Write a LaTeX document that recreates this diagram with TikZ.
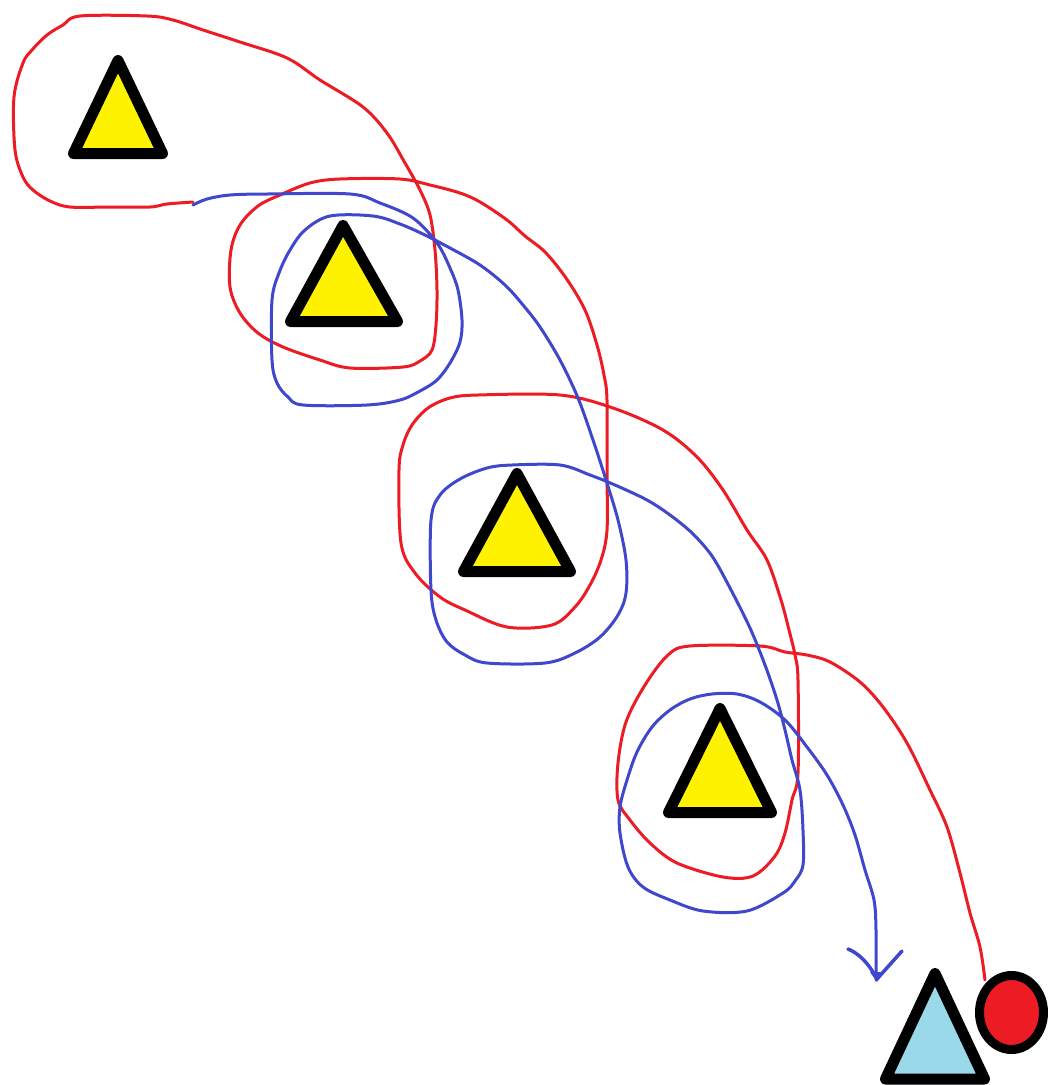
\documentclass[tikz,border=0pt]{standalone}
\definecolor{pred}{HTML}{ED1C24}
\definecolor{pblue}{HTML}{3F48CC}
\definecolor{pyellow}{HTML}{FFF200}
\definecolor{plblue}{HTML}{99D9EA}
\begin{document}
\begin{tikzpicture}[x=1pt,y=-1pt,
  cone/.style={draw=black,line width=11pt,line join=round,fill=pyellow},
  redpath/.style={draw=pred,line width=3pt,line cap=round,line join=round},
  bluepath/.style={draw=pblue,line width=3pt,line cap=round,line join=round}]
\useasboundingbox[fill=white] (0,0) rectangle (1048,1085);
% red route
\draw[redpath] plot[smooth,tension=0.55] coordinates {
(193,202) (167,204) (150,207) (110,207) (70,207) (50,201) (33,190) (23,177) (15,150) (14,97) (23,63) (32,50) (47,35) (63,25) (80,16) (147,16) (173,20) (203,30) (240,42) (287,58) (320,80) (363,107) (387,133) (405,163) (420,190) (430,215) (435,250) (437,290) (436,325) (432,350) (420,361) (403,367) (350,368) (320,360) (283,347) (258,333) (240,313) (230,287) (231,250) (240,225) (258,206) (280,195) (310,183) (340,179) (400,179) (430,185) (460,193) (480,202) (507,220) (525,236) (545,252) (566,278) (585,310) (597,345) (604,375) (607,400) (607,470) (607,530) (601,560) (590,585) (575,607) (552,625) (507,627) (465,610) (440,597) (415,573) (401,543) (399,470) (403,445) (412,425) (428,408) (450,398) (478,395) (560,395) (613,408) (663,430) (697,457) (723,490) (747,530) (767,560) (781,600) (789,630) (795,655) (798,680) (798,773) (792,800) (785,833) (775,856) (753,876) (723,877) (677,863) (650,843) (630,820) (618,800) (618,763) (626,722) (645,685) (668,655) (690,646) (760,646) (785,652) (807,655) (830,662) (860,682) (883,707) (907,743) (930,790) (947,827) (960,873) (970,913) (980,947) (985,980)};
% blue route
\draw[bluepath] plot[smooth,tension=0.55] coordinates {
(193,205) (207,199) (230,195) (267,194) (350,194) (380,203) (413,218) (437,243) (450,268) (458,290) (462,320) (460,342) (450,363) (437,380) (420,391) (400,400) (367,405) (303,405) (288,397) (277,383) (272,360) (272,300) (279,273) (290,250) (305,230) (330,216) (373,216) (400,224) (425,235) (450,248) (480,265) (505,285) (523,305) (540,327) (560,360) (578,398) (593,440) (606,480) (618,520) (626,560) (626,593) (618,615) (600,637) (575,653) (545,663) (487,663) (465,655) (447,642) (436,620) (431,590) (431,520) (440,495) (460,479) (487,468) (512,465) (560,465) (590,475) (615,485) (647,500) (670,515) (692,533) (712,556) (730,588) (750,628) (765,665) (777,700) (785,730) (792,760) (800,790) (803,830) (803,865) (795,881) (783,893) (747,911) (703,911) (670,900) (643,887) (628,867) (620,833) (620,807) (627,780) (637,752) (652,727) (670,710) (690,699) (712,694) (737,694) (760,702) (785,720) (807,747) (827,775) (843,805) (855,835) (865,870) (874,900) (876,930) (876,980)};
% arrow head
\draw[bluepath,line width=3.5pt] (848,949) .. controls (858,953) and (868,962) .. (877,979) -- (902,951);
\fill[pblue] (870,972) -- (877,982) -- (884,972) -- cycle;
% yellow triangles
\draw[cone] (118,60.5) -- (162.5,153.5) -- (73.5,153.5) -- cycle;
\draw[cone] (343,225.5) -- (397.5,321.5) -- (290.5,321.5) -- cycle;
\draw[cone] (517,473.5) -- (570.5,571.5) -- (463.5,571.5) -- cycle;
\draw[cone] (720,708.5) -- (771.5,812.5) -- (668.5,812.5) -- cycle;
% light blue triangle and red ball
\draw[draw=black,line width=11pt,line join=round,fill=plblue] (935,973.5) -- (984.5,1079) -- (885.5,1079) -- cycle;
\draw[draw=black,line width=9pt,fill=pred] (1011.5,1012.5) ellipse [x radius=32, y radius=37];
\end{tikzpicture}
\end{document}
